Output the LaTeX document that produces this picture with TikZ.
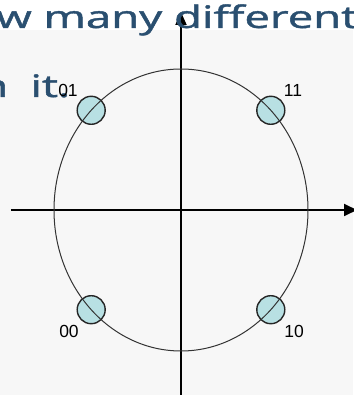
\documentclass[tikz,border=0pt]{standalone}
\usepackage{fontspec}
\setmainfont{Liberation Sans}
\newfontfamily\slidefont[FakeBold=1.2]{Open Sans}
\usetikzlibrary{arrows.meta}
\definecolor{slideBlue}{HTML}{2A4F70}
\definecolor{pointFill}{HTML}{B8E0E3}
\definecolor{paperGray}{HTML}{F7F7F7}

\begin{document}
\begin{tikzpicture}[x=1pt, y=1pt,
    sym/.style={circle, draw=black!85, line width=1.4pt, fill=pointFill,
        minimum size=28pt, inner sep=0pt},
    bits/.style={font=\fontsize{17.5}{18}\selectfont, inner sep=0pt},
    slide/.style={text=slideBlue, font=\slidefont\fontsize{31}{32}\selectfont,
        inner sep=0pt, anchor=base west, xscale=1.47, transform shape}]
    \useasboundingbox (-181,-185) rectangle (172,210);
    \fill[white] (-181,-185) rectangle (172,210);
    \fill[paperGray] (-181,-185) rectangle (172,180);
    % axes
    \coordinate (xl) at (-170,0);
    \coordinate (xr) at (176,0);
    \coordinate (yb) at (0,-190);
    \coordinate (yt) at (0,198);
    \draw[line width=1.8pt, -{Triangle[length=13pt, width=12pt]}] (xl) -- (xr);
    \draw[line width=1.8pt, -{Triangle[length=13pt, width=11pt]}] (yb) -- (yt);
    % the four symbols on the circle
    \foreach \bit/\ang in {11/45, 01/135, 00/225, 10/315}
        \node[sym] (p\bit) at ({127*cos(\ang)}, {141*sin(\ang)}) {};
    \draw[black!80, line width=1pt] (0,0) ellipse [x radius=127, y radius=141];
    % slide text behind
    \node[slide] (line1) at (-185,182) {w many different};
    \node[slide] (line2) at (-201,113) {n\hspace{7pt} it.};
    % bit labels
    \node[bits] (l01) at (-113,120) {01};
    \node[bits] (l11) at (112,120) {11};
    \node[bits] (l00) at (-112,-121) {00};
    \node[bits] (l10) at (113,-121) {10};
\end{tikzpicture}
\end{document}
